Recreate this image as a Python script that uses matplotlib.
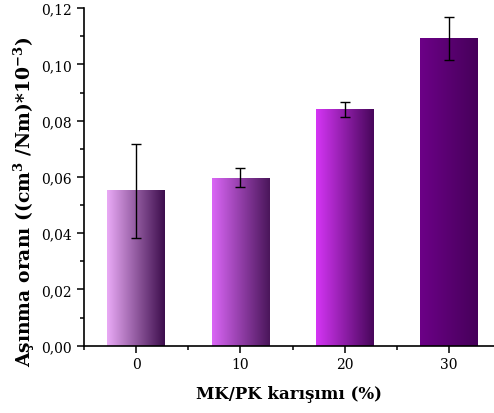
import numpy as np
import matplotlib
matplotlib.use("Agg")
import matplotlib.pyplot as plt
from matplotlib.colors import to_rgb
from matplotlib.ticker import MultipleLocator, FuncFormatter

#%% data
mix = [0, 10, 20, 30]
wear = [0.0551, 0.0597, 0.0839, 0.1093]
wear_err = [0.0167, 0.0033, 0.0027, 0.0076]
left_cols = ["#eaaaf6", "#da66f6", "#d535f5", "#6c0087"]
right_cols = ["#3c0d4c", "#4a165a", "#47065a", "#46005a"]

plt.rcParams['font.family'] = ['DejaVu Serif']
plt.rcParams['mathtext.fontset'] = 'dejavuserif'
plt.rcParams['mathtext.default'] = 'bf'

fig = plt.figure(figsize=(4.94, 4.14), dpi=100)
ax = fig.add_axes([0.170, 0.1626, 0.83, 0.8154])

bars = ax.bar(mix, wear, width=5.5, color='none', edgecolor='none', zorder=2)

# gradient fill for each bar
for b, c1, c2 in zip(bars, left_cols, right_cols):
    x0 = b.get_x()
    w = b.get_width()
    h = b.get_height()
    t = np.linspace(0, 1, 256)[None, :, None]
    grad = (1 - t) * np.array(to_rgb(c1)) + t * np.array(to_rgb(c2))
    ax.imshow(grad, extent=[x0, x0 + w, 0, h], aspect='auto', zorder=2,
              interpolation='bilinear')

ax.errorbar(mix, wear, yerr=wear_err, fmt='none', ecolor='black',
            elinewidth=1, capsize=3.5, capthick=1, zorder=3)

ax.set_xlim(-5, 34.3)
ax.set_ylim(0, 0.12)
ax.set_xticks(mix)
ax.xaxis.set_minor_locator(MultipleLocator(5))
ax.yaxis.set_major_locator(MultipleLocator(0.02))
ax.yaxis.set_minor_locator(MultipleLocator(0.01))
ax.yaxis.set_major_formatter(FuncFormatter(lambda v, p: f"{v:.2f}".replace('.', ',')))

for s in ['top', 'right']:
    ax.spines[s].set_visible(False)
for s in ['left', 'bottom']:
    ax.spines[s].set_linewidth(1.2)

ax.tick_params(which='major', direction='out', length=5, width=1.1, labelsize=10)
ax.tick_params(which='minor', direction='out', length=3, width=1.1)

ax.set_xlabel("MK/PK karışımı (%)", fontsize=12, fontweight='bold', labelpad=10)
ax.set_ylabel("Aşınma oranı ((cm$^{3}$ /Nm)*10$^{-3}$)", fontsize=13.5,
              fontweight='bold')
ax.yaxis.set_label_coords(-0.115, 0.43)

plt.savefig("out.png", dpi=100)
